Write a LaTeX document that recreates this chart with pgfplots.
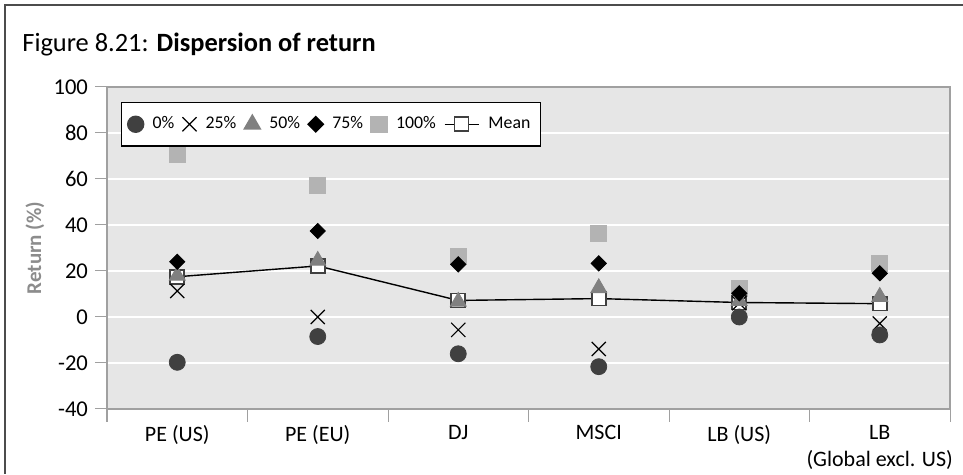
\documentclass[border=0pt]{standalone}
\usepackage{pgfplots}
\pgfplotsset{compat=1.18}
\usepackage{fontspec}
\setmainfont{Carlito}
\definecolor{bg}{HTML}{E6E6E6}
\definecolor{cdark}{HTML}{404040}
\definecolor{cmid}{HTML}{808080}
\definecolor{clight}{HTML}{B3B3B3}
\definecolor{axgray}{HTML}{A0A0A0}
\definecolor{labgray}{HTML}{8C8C8C}

\pgfplotstableread{
x p0 p25 p50 p75 p100 mean
0 -19.7 11.3 18.0 24.0 70.7 17.5
1 -8.5 0.0 24.5 37.4 57.0 22.2
2 -16.0 -5.6 6.7 22.9 26.2 7.2
3 -21.6 -13.9 12.6 23.3 36.4 8.0
4 0.0 6.0 7.0 10.3 12.5 6.3
5 -7.8 -2.8 8.8 19.0 23.3 5.8
}\datatable

\pgfplotsset{
  s0/.style={only marks, color=cdark, mark=*, mark size=4pt},
  s25/.style={only marks, color=black, mark=x, mark size=5pt, mark options={line width=0.6pt}},
  s50/.style={only marks, color=cmid, mark=triangle*, mark size=4.6pt},
  s75/.style={only marks, color=black, mark=square*, mark size=2.7pt, mark options={rotate=45}},
  s100/.style={only marks, color=clight, mark=square*, mark size=4pt},
  smean/.style={black, line width=0.7pt, mark=square*, mark size=3.5pt, mark options={fill=white, draw=cdark, line width=0.8pt}},
}

\begin{document}
\begin{tikzpicture}
\path[use as bounding box] (0pt,0pt) rectangle (481.5pt,237.5pt);
\draw[line width=1pt, color=black!70] (2.5pt,0.5pt) -- (2.5pt,235pt) -- (481.5pt,235pt);
\node[anchor=west, inner sep=0pt, font=\fontsize{13.2}{15}\selectfont] at (11pt,215pt) {Figure 8.21: \textbf{Dispersion of return}};
\begin{axis}[
  at={(53.5pt,33pt)}, anchor=south west,
  scale only axis, width=421.5pt, height=161pt,
  xmin=-0.5, xmax=5.5, ymin=-40, ymax=100,
  ytick={-40,-20,...,100},
  xtick={0,...,5},
  xticklabels={PE (US), PE (EU), DJ, MSCI, LB (US), {LB\\(Global excl. US)}},
  minor xtick={-0.5,0.5,...,5.5},
  xtick pos=bottom, ytick pos=left,
  axis background/.style={fill=bg},
  axis line style={draw=axgray, line width=0.6pt},
  ymajorgrids, major grid style={white, line width=0.8pt},
  tick align=outside, major tick length=6pt, minor tick length=6.5pt,
  tick style={axgray, line width=0.5pt},
  major x tick style={draw=none},
  /pgf/number format/assume math mode=true,
  xticklabel style={align=center, font=\fontsize{11}{13.5}\selectfont, anchor=north, inner sep=2pt},
  yticklabel style={font=\fontsize{11.3}{13}\selectfont},
  ylabel={\textbf{Return (\%)}},
  ylabel style={at={(axis description cs:-0.0854,0.5)}, anchor=center, color=labgray, font=\fontsize{10.5}{12}\selectfont},
  legend columns=-1,
  legend style={at={(axis description cs:0,1)}, anchor=north west, xshift=7pt, yshift=-7.5pt,
    draw=black, line width=0.7pt, fill=white, font=\fontsize{8.9}{12}\selectfont,
    /tikz/every odd column/.append style={column sep=2.5pt},
    /tikz/every even column/.append style={column sep=2pt},
    inner xsep=3pt, inner ysep=5pt},
  clip=false,
]
\addlegendimage{s0}
\addlegendentry{0\%}
\addlegendimage{s25}
\addlegendentry{25\%}
\addlegendimage{s50}
\addlegendentry{50\%}
\addlegendimage{s75}
\addlegendentry{75\%}
\addlegendimage{s100}
\addlegendentry{100\%}
\addlegendimage{smean}
\addlegendentry{Mean}

\addplot[forget plot, s100] table[x=x, y=p100] {\datatable};
\addplot[forget plot, smean] table[x=x, y=mean] {\datatable};
\addplot[forget plot, s25] table[x=x, y=p25] {\datatable};
\addplot[forget plot, s0] table[x=x, y=p0] {\datatable};
\addplot[forget plot, s50] table[x=x, y=p50] {\datatable};
\addplot[forget plot, s75] table[x=x, y=p75] {\datatable};
\end{axis}
\end{tikzpicture}
\end{document}
